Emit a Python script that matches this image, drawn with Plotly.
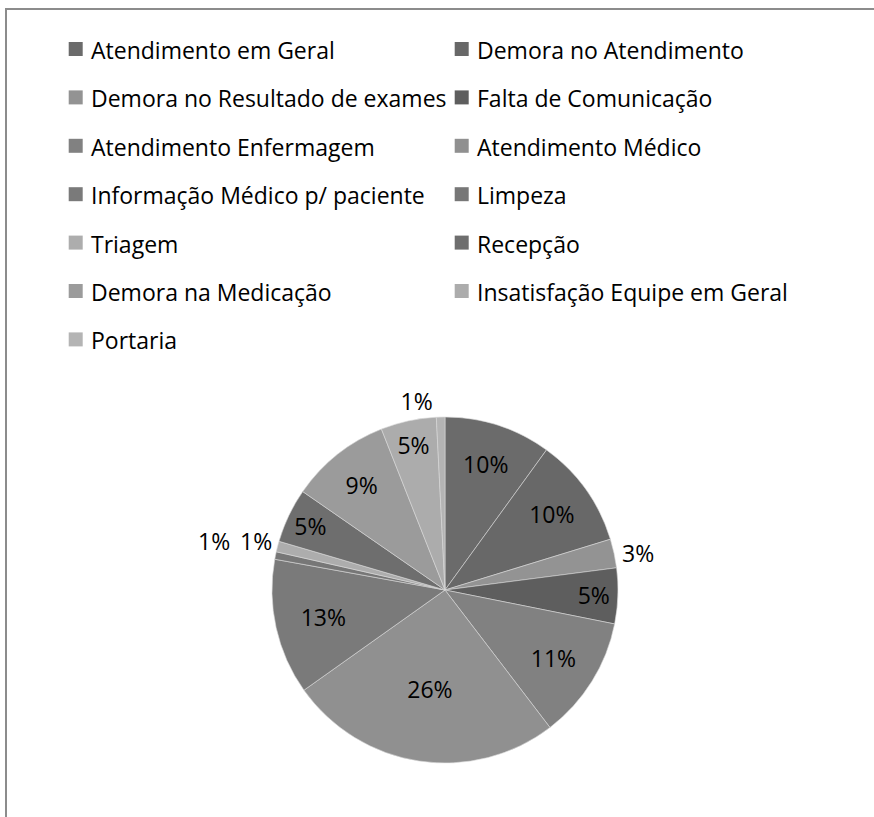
import math
import plotly.graph_objects as go

W, H = 874, 817

categories = [
    "Atendimento em Geral",
    "Demora no Atendimento",
    "Demora no Resultado de exames",
    "Falta de Comunicação",
    "Atendimento Enfermagem",
    "Atendimento Médico",
    "Informação Médico p/ paciente",
    "Limpeza",
    "Triagem",
    "Recepção",
    "Demora na Medicação",
    "Insatisfação Equipe em Geral",
    "Portaria",
]
values = [10.0, 10.3, 2.7, 5.2, 11.5, 25.6, 12.7, 0.7, 1.0, 5.1, 9.4, 5.2, 0.8]
colors = [
    "#6b6b6b", "#686868", "#939393", "#5e5e5e", "#818181", "#909090",
    "#7a7a7a", "#777777", "#adadad", "#6e6e6e", "#9b9b9b", "#acacac", "#b4b4b4",
]
label_pos = ["inside", "inside", "outside", "inside", "inside", "inside",
             "inside", "none", "none", "inside", "inside", "inside", "outside"]

FONT = "Open Sans"
cx, cy, r = 445, 590, 173

fig = go.Figure()
fig.add_trace(go.Pie(
    labels=categories,
    values=values,
    sort=False,
    direction="clockwise",
    rotation=0,
    marker=dict(colors=colors, line=dict(color="#d9d9d9", width=0.6)),
    texttemplate="%{percent:.0%}",
    textposition=label_pos,
    insidetextorientation="horizontal",
    textfont=dict(family=FONT, size=23, color="black"),
    showlegend=False,
    hoverinfo="label+percent",
    domain=dict(x=[(cx - r) / W, (cx + r) / W], y=[(H - cy - r) / H, (H - cy + r) / H]),
))

shapes = []
annotations = []
# frame
shapes.append(dict(type="path", xref="paper", yref="paper",
                   path=f"M {6/W},0 L {6/W},{1-9/H} L 1,{1-9/H}",
                   line=dict(color="#8c8c8c", width=2)))

# legend (two columns)
for i, (name, col) in enumerate(zip(categories, colors)):
    c = i % 2
    rrow = i // 2
    sx = 75.7 + c * 386
    sy = 49 + rrow * 48.4
    half = 7
    shapes.append(dict(type="rect", xref="paper", yref="paper",
                       x0=(sx - half) / W, x1=(sx + half) / W,
                       y0=1 - (sy + half) / H, y1=1 - (sy - half) / H,
                       fillcolor=col, line=dict(width=0)))
    annotations.append(dict(xref="paper", yref="paper",
                            x=(sx + 13) / W, y=1 - (sy + 1) / H,
                            xanchor="left", yanchor="middle", showarrow=False,
                            text=name, font=dict(family=FONT, size=23, color="black")))

# outside labels for the two tiny adjacent slices, placed side by side
total = sum(values)
cum = 0.0
mids = []
for v in values:
    mids.append((cum + v / 2) / total * 2 * math.pi)
    cum += v
i_t = categories.index("Triagem")
i_l = categories.index("Limpeza")
ang = mids[i_t]
lx = cx + (r + 22) * math.sin(ang)
ly = cy - (r + 22) * math.cos(ang)
for idx, dx in ((i_t, 0), (i_l, -42)):
    pct = round(values[idx] / total * 100)
    annotations.append(dict(xref="paper", yref="paper",
                            x=(lx + dx) / W, y=1 - ly / H,
                            xanchor="center", yanchor="middle", showarrow=False,
                            text=f"{pct}%", font=dict(family=FONT, size=23, color="black")))

fig.update_layout(
    width=W, height=H,
    margin=dict(l=0, r=0, t=0, b=0),
    paper_bgcolor="white",
    plot_bgcolor="white",
    shapes=shapes,
    annotations=annotations,
    uniformtext=dict(minsize=23, mode="show"),
)

fig.write_html("out.html", config={"displayModeBar": False},
               post_script="document.body.style.margin='0';")
